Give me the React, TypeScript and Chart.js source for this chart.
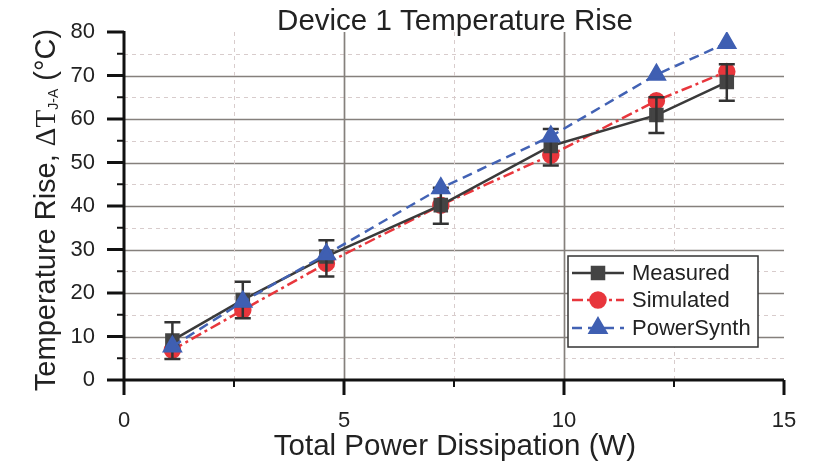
import React, { useEffect, useRef } from "react";
import { Chart, registerables } from "chart.js";
import { drawPoint } from "chart.js/helpers";

Chart.register(...registerables);

// ---- data ----
const powerW = [1.1, 2.7, 4.6, 7.2, 9.7, 12.1, 13.7];
const measured = [9.1, 18.4, 28.4, 40.2, 53.8, 60.9, 68.5];
const measuredLow = [4.8, 14.2, 23.8, 35.9, 49.3, 56.8, 64.2];
const measuredHigh = [13.3, 22.6, 32.1, 44.2, 57.7, 65.0, 72.6];
const simulated = [6.9, 16.1, 26.8, 40.2, 51.7, 64.2, 70.9];
const powerSynth = [7.7, 18.0, 28.9, 44.1, 56.0, 70.2, 77.5];
const seriesNames = ["Measured", "Simulated", "PowerSynth"];
const chartTitle = "Device 1 Temperature Rise";
const xTitle = "Total Power Dissipation (W)";

const SANS = "'Liberation Sans', Arial, Helvetica, sans-serif";
const SERIF = "'Liberation Serif', 'Times New Roman', serif";

const decor = {
  id: "decor",
  beforeDatasetsDraw(chart: any) {
    const { ctx, chartArea, scales } = chart;
    const { left, right, top, bottom } = chartArea;
    const x = scales.x, y = scales.y;
    ctx.save();
    y.ticks.forEach((t: any) => {
      const v = t.value;
      if (v <= y.min || v >= y.max) return;
      const py = Math.round(y.getPixelForValue(v)) + 0.5;
      const major = Math.abs(v % 10) < 1e-6;
      ctx.beginPath();
      ctx.setLineDash(major ? [] : [4, 4]);
      ctx.strokeStyle = major ? "#85807c" : "#d8cccc";
      ctx.lineWidth = major ? 1.7 : 1;
      ctx.moveTo(left, py);
      ctx.lineTo(right, py);
      ctx.stroke();
    });
    x.ticks.forEach((t: any) => {
      const v = t.value;
      if (v <= x.min || v >= x.max) return;
      const px = Math.round(x.getPixelForValue(v)) + 0.5;
      const major = Math.abs(v % 5) < 1e-6;
      ctx.beginPath();
      ctx.setLineDash(major ? [] : [4, 4]);
      ctx.strokeStyle = major ? "#85807c" : "#d8cccc";
      ctx.lineWidth = major ? 1.7 : 1;
      ctx.moveTo(px, top);
      ctx.lineTo(px, bottom);
      ctx.stroke();
    });
    ctx.restore();
  },
  afterDatasetDraw(chart: any, args: any) {
    if (args.index !== 0) return;
    const { ctx, scales } = chart;
    const x = scales.x, y = scales.y;
    ctx.save();
    ctx.strokeStyle = "#333333";
    ctx.lineWidth = 2.5;
    ctx.setLineDash([]);
    powerW.forEach((p, i) => {
      const px = x.getPixelForValue(p);
      const y1 = y.getPixelForValue(measuredLow[i]);
      const y2 = y.getPixelForValue(measuredHigh[i]);
      ctx.beginPath();
      ctx.moveTo(px, y1);
      ctx.lineTo(px, y2);
      ctx.moveTo(px - 8, y1);
      ctx.lineTo(px + 8, y1);
      ctx.moveTo(px - 8, y2);
      ctx.lineTo(px + 8, y2);
      ctx.stroke();
    });
    ctx.restore();
  },
  afterDraw(chart: any) {
    const { ctx, chartArea, scales } = chart;
    const { left, right, top, bottom } = chartArea;
    const x = scales.x, y = scales.y;
    ctx.save();
    ctx.setLineDash([]);
    ctx.strokeStyle = "#111111";
    ctx.lineCap = "butt";
    // tick marks
    y.ticks.forEach((t: any) => {
      const v = t.value;
      const py = y.getPixelForValue(v);
      const major = Math.abs(v % 10) < 1e-6;
      ctx.lineWidth = major ? 3 : 2;
      ctx.beginPath();
      ctx.moveTo(left - (major ? 17 : 7), py);
      ctx.lineTo(left, py);
      ctx.stroke();
    });
    x.ticks.forEach((t: any) => {
      const v = t.value;
      const px = x.getPixelForValue(v);
      const major = Math.abs(v % 5) < 1e-6;
      ctx.lineWidth = major ? 3 : 2;
      ctx.beginPath();
      ctx.moveTo(px, bottom);
      ctx.lineTo(px, bottom + (major ? 15 : 7));
      ctx.stroke();
    });
    // axis lines
    ctx.lineWidth = 3;
    ctx.beginPath();
    ctx.moveTo(left, top - 1);
    ctx.lineTo(left, bottom + 1.5);
    ctx.moveTo(left - 1.5, bottom);
    ctx.lineTo(right, bottom);
    ctx.stroke();

    // chart title
    ctx.fillStyle = "#222222";
    ctx.font = `29.5px ${SANS}`;
    ctx.textAlign = "center";
    ctx.textBaseline = "alphabetic";
    ctx.fillText(chartTitle, (left + right) / 2 + 1, 30);

    // x title
    ctx.fillText(xTitle, (left + right) / 2 + 1, 455);

    // y title (rotated) with subscript
    const parts = [
      { t: "Temperature Rise, ", f: `29px ${SANS}`, dy: 0 },
      { t: "\u0394T", f: `29px ${SERIF}`, dy: 0 },
      { t: "J-A", f: `14px ${SANS}`, dy: 3 },
      { t: " (\u00B0C)", f: `29px ${SANS}`, dy: 0 },
    ];
    let total = 0;
    const widths = parts.map((p) => {
      ctx.font = p.f;
      const w = ctx.measureText(p.t).width;
      total += w;
      return w;
    });
    ctx.translate(55, 210);
    ctx.rotate(-Math.PI / 2);
    ctx.textAlign = "left";
    let cx = -total / 2;
    parts.forEach((p, i) => {
      ctx.font = p.f;
      ctx.fillText(p.t, cx, p.dy);
      cx += widths[i];
    });
    ctx.restore();

    // legend
    ctx.save();
    const bx = 568, by = 256, bw = 190, bh = 91;
    ctx.fillStyle = "#ffffff";
    ctx.fillRect(bx, by, bw, bh);
    ctx.strokeStyle = "#333333";
    ctx.lineWidth = 1.5;
    ctx.strokeRect(bx, by, bw, bh);
    const rows = [273, 300, 328];
    chart.data.datasets.forEach((ds: any, i: number) => {
      const ry = rows[i];
      ctx.strokeStyle = ds.borderColor;
      ctx.lineWidth = ds.borderWidth;
      ctx.setLineDash(ds.borderDash || []);
      ctx.beginPath();
      ctx.moveTo(572, ry);
      ctx.lineTo(624, ry);
      ctx.stroke();
      ctx.setLineDash([]);
      ctx.fillStyle = ds.pointBackgroundColor;
      ctx.strokeStyle = ds.pointBorderColor;
      drawPoint(
        ctx,
        { pointStyle: ds.pointStyle, radius: ds.pointRadius, rotation: 0, borderWidth: 1 } as any,
        598,
        ry
      );
      ctx.fillStyle = "#222222";
      ctx.font = `22px ${SANS}`;
      ctx.textAlign = "left";
      ctx.textBaseline = "middle";
      ctx.fillText(ds.label, 632, ry + 1);
    });
    ctx.restore();
  },
};

export default function App() {
  const ref = useRef<HTMLCanvasElement | null>(null);
  useEffect(() => {
    document.body.style.margin = "0";
    if (!ref.current) return;
    const toXY = (arr: number[]) => arr.map((v, i) => ({ x: powerW[i], y: v }));
    const chart = new Chart(ref.current, {
      type: "line",
      data: {
        datasets: [
          {
            label: seriesNames[0],
            data: toXY(measured),
            borderColor: "#3a3a3a",
            borderWidth: 2.5,
            pointStyle: "rect",
            pointRadius: 8.5,
            pointBackgroundColor: "#444444",
            pointBorderColor: "#444444",
            borderDash: [],
            order: 1,
          },
          {
            label: seriesNames[1],
            data: toXY(simulated),
            borderColor: "#e8363c",
            borderWidth: 2.5,
            pointStyle: "circle",
            pointRadius: 7.5,
            pointBackgroundColor: "#e8363c",
            pointBorderColor: "#e8363c",
            borderDash: [11, 4, 3, 4],
            order: 2,
          },
          {
            label: seriesNames[2],
            data: toXY(powerSynth),
            borderColor: "#4262b4",
            borderWidth: 2.5,
            pointStyle: "triangle",
            pointRadius: 9.5,
            pointBackgroundColor: "#3f5fb2",
            pointBorderColor: "#3f5fb2",
            borderDash: [10, 6],
            order: 0,
          },
        ] as any,
      },
      options: {
        responsive: false,
        animation: false,
        layout: { padding: { left: 0, right: 34, top: 32, bottom: 0 } },
        plugins: { legend: { display: false }, title: { display: false }, tooltip: { enabled: false } },
        elements: { line: { tension: 0 }, point: { borderWidth: 1 } },
        scales: {
          x: {
            type: "linear",
            min: 0,
            max: 15,
            grid: { display: false, drawTicks: false },
            border: { display: false },
            ticks: {
              stepSize: 2.5,
              autoSkip: false,
              maxRotation: 0,
              padding: 28,
              color: "#222222",
              font: { family: SANS, size: 22 },
              callback: (v: any) => (Math.abs(Number(v) % 5) < 1e-6 ? String(v) : ""),
            },
            afterFit: (s: any) => {
              s.height = 82;
              s.paddingLeft = 0;
              s.paddingRight = 0;
              s.paddingTop = 0;
              s.paddingBottom = 0;
            },
          },
          y: {
            type: "linear",
            min: 0,
            max: 80,
            grid: { display: false, drawTicks: false },
            border: { display: false },
            ticks: {
              stepSize: 5,
              autoSkip: false,
              padding: 29,
              color: "#222222",
              font: { family: SANS, size: 22 },
              callback: (v: any) => (Math.abs(Number(v) % 10) < 1e-6 ? String(v) : ""),
            },
            afterFit: (s: any) => {
              s.width = 124;
              s.paddingLeft = 0;
              s.paddingRight = 0;
              s.paddingTop = 0;
              s.paddingBottom = 0;
            },
          },
        },
      },
      plugins: [decor],
    });
    return () => chart.destroy();
  }, []);
  return (
    <div style={{ width: 818, height: 462, position: "relative", background: "#ffffff" }}>
      <canvas ref={ref} width={818} height={462} style={{ display: "block", width: 818, height: 462 }} />
    </div>
  );
}
